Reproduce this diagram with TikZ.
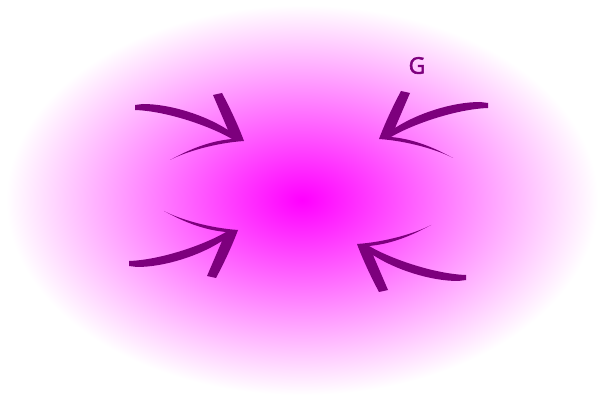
\documentclass[tikz,border=0pt]{standalone}
\usepackage{fontspec}
\newfontfamily\gfont[FakeBold=2.5]{Open Sans}
\definecolor{arrowpurple}{RGB}{125,0,125}
\newcommand\myarrowpath{%
  (135,105) -- (143,104)
  .. controls (170,104) and (205,115) .. (228,130)
  -- (213,95) -- (222,93)
  .. controls (230,108) and (238,125) .. (244,141)
  .. controls (215,143) and (185,152) .. (170,160)
  .. controls (190,149) and (210,141) .. (232,139)
  .. controls (208,125) and (165,111) .. (135,110)
  -- cycle}
\tikzset{arrowfill/.style={fill=arrowpurple}}
\begin{document}
\begin{tikzpicture}[x=1pt,y=-1pt]
\useasboundingbox (0,0) rectangle (605,395);
\shade[inner color=magenta, outer color=white] (302,200) ellipse [x radius=296pt, y radius=195pt];
\fill[arrowfill] \myarrowpath;
\begin{scope}[shift={(623,-2)}, xscale=-1]
  \fill[arrowfill] \myarrowpath;
\end{scope}
\begin{scope}[shift={(-6,371)}, yscale=-1]
  \fill[arrowfill] \myarrowpath;
\end{scope}
\begin{scope}[shift={(601,385)}, scale=-1]
  \fill[arrowfill] \myarrowpath;
\end{scope}
\node[text=arrowpurple, font=\gfont\fontsize{23}{26}\selectfont, inner sep=0pt] (g) at (417,65.5) {G};
\end{tikzpicture}
\end{document}
